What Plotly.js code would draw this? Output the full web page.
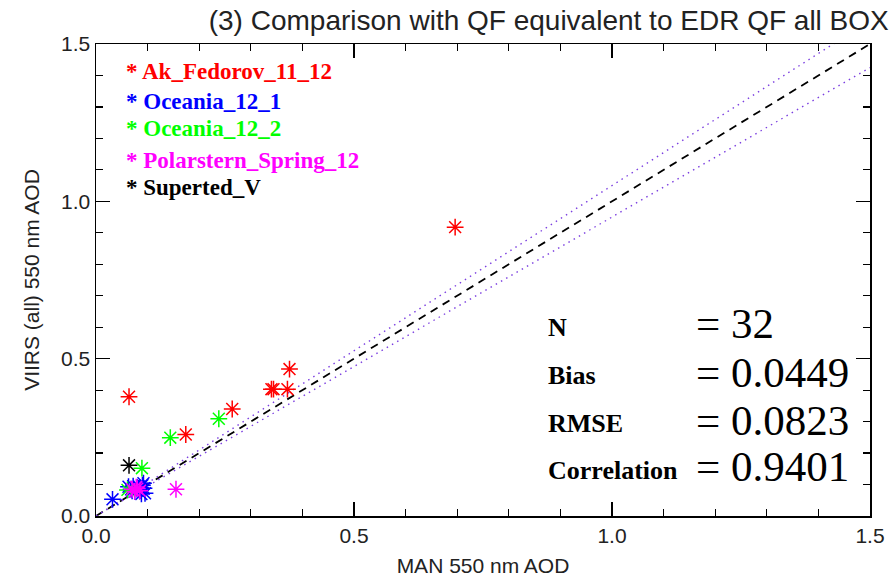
<!DOCTYPE html>
<html>
<head>
<meta charset="utf-8">
<script src="https://cdn.plot.ly/plotly-3.0.1.min.js"></script>
<style>html,body{margin:0;padding:0;background:#fff;}#chart{width:895px;height:580px;}</style>
</head>
<body>
<div id="chart"></div>
<script>
// ---- data ----
const seriesNames = ["Ak_Fedorov_11_12", "Oceania_12_1", "Oceania_12_2", "Polarstern_Spring_12", "Superted_V"];
const seriesColors = ["#ff0000", "#0000ff", "#00ff00", "#ff00ff", "#000000"];

const fedorovX = [0.064, 0.174, 0.264, 0.340, 0.344, 0.371, 0.375, 0.696];
const fedorovY = [0.379, 0.259, 0.340, 0.403, 0.403, 0.403, 0.467, 0.918];

const oceania1X = [0.032, 0.063, 0.070, 0.085, 0.090, 0.092, 0.095, 0.088, 0.080, 0.075, 0.093, 0.068, 0.072];
const oceania1Y = [0.053, 0.093, 0.080, 0.090, 0.098, 0.104, 0.072, 0.070, 0.085, 0.078, 0.088, 0.085, 0.095];

const oceania2X = [0.061, 0.089, 0.144, 0.238];
const oceania2Y = [0.083, 0.152, 0.249, 0.309];

const polarsternX = [0.070, 0.075, 0.080, 0.085, 0.078, 0.155];
const polarsternY = [0.085, 0.078, 0.087, 0.080, 0.092, 0.085];

const supertedX = [0.064];
const supertedY = [0.161];

const refLineX = [0, 1.5];
const oneToOneSlope = 1.0;
const envelopeSlopes = [1.05, 0.95];

const statLabels = ["N", "Bias", "RMSE", "Correlation"];
const statValues = ["32", "0.0449", "0.0823", "0.9401"];

const xTickVals = [0.0, 0.5, 1.0, 1.5];
const xTickText = ["0.0", "0.5", "1.0", "1.5"];
const yTickVals = [0.0, 0.5, 1.0, 1.5];
const yTickText = ["0.0", "0.5", "1.0", "1.5"];

// ---- traces ----
const seriesX = [fedorovX, oceania1X, oceania2X, polarsternX, supertedX];
const seriesY = [fedorovY, oceania1Y, oceania2Y, polarsternY, supertedY];

const traces = [];
traces.push({
  x: refLineX, y: refLineX.map(v => v * oneToOneSlope), mode: 'lines',
  line: {color: '#000000', width: 1.8, dash: '8px,6px'}, hoverinfo: 'skip', showlegend: false
});
envelopeSlopes.forEach(s => {
  traces.push({
    x: refLineX, y: refLineX.map(v => v * s), mode: 'lines',
    line: {color: '#7b3fe0', width: 1.4, dash: '1.5px,4.5px'}, hoverinfo: 'skip', showlegend: false
  });
});
seriesNames.forEach((name, i) => {
  traces.push({
    x: seriesX[i], y: seriesY[i], mode: 'markers', name: name, showlegend: false,
    marker: {symbol: 'asterisk-open', size: 14, color: seriesColors[i], line: {color: seriesColors[i], width: 1.5}},
    cliponaxis: true
  });
});

// ---- annotations ----
const annotations = [];
const legendYs = [0.941, 0.879, 0.820, 0.754, 0.695];
seriesNames.forEach((name, i) => {
  annotations.push({
    xref: 'paper', yref: 'paper', x: 0.036, y: legendYs[i], xanchor: 'left', yanchor: 'middle',
    text: '<b>* ' + name + '</b>', showarrow: false,
    font: {family: 'Liberation Serif', size: 23, color: seriesColors[i]}
  });
});
const statYs = [0.400, 0.297, 0.195, 0.097];
statLabels.forEach((lab, i) => {
  annotations.push({
    xref: 'paper', yref: 'paper', x: 0.581, y: statYs[i], xanchor: 'left', yanchor: 'middle',
    text: '<b>' + lab + '</b>', showarrow: false,
    font: {family: 'Liberation Serif', size: 26, color: '#000'}
  });
  annotations.push({
    xref: 'paper', yref: 'paper', x: 0.772, y: statYs[i] + 0.008, xanchor: 'left', yanchor: 'middle',
    text: '= ' + statValues[i], showarrow: false,
    font: {family: 'Liberation Serif', size: 43, color: '#000'}
  });
});

const axisCommon = {
  range: [0, 1.5], showgrid: false, zeroline: false, showline: true, linecolor: '#000', linewidth: 1.5,
  mirror: 'ticks', ticks: 'inside', ticklen: 14, tickwidth: 1.2, tickcolor: '#000',
  minor: {dtick: 0.1, ticks: 'inside', ticklen: 7, tickwidth: 1.2, tickcolor: '#000'},
  tickfont: {family: 'Liberation Sans', size: 21, color: '#222'},
  fixedrange: true
};

const layout = {
  width: 895, height: 580,
  margin: {l: 96, r: 25, t: 44, b: 64},
  paper_bgcolor: '#fff', plot_bgcolor: '#fff',
  showlegend: false,
  title: {
    text: '(3) Comparison with QF equivalent to EDR QF all BOX',
    xref: 'container', yref: 'container', x: 0.993, xanchor: 'right', y: 0.966, yanchor: 'middle',
    font: {family: 'Liberation Sans', size: 28, color: '#222'}
  },
  xaxis: Object.assign({}, axisCommon, {
    tickvals: xTickVals, ticktext: xTickText,
    title: {text: 'MAN 550 nm AOD', font: {family: 'Liberation Sans', size: 21, color: '#222'}, standoff: 12}
  }),
  yaxis: Object.assign({}, axisCommon, {
    tickvals: yTickVals, ticktext: yTickText,
    title: {text: 'VIIRS (all) 550 nm AOD', font: {family: 'Liberation Sans', size: 21, color: '#222'}, standoff: 15}
  }),
  annotations: annotations
};

Plotly.newPlot('chart', traces, layout, {displayModeBar: false, staticPlot: true});
</script>
</body>
</html>
